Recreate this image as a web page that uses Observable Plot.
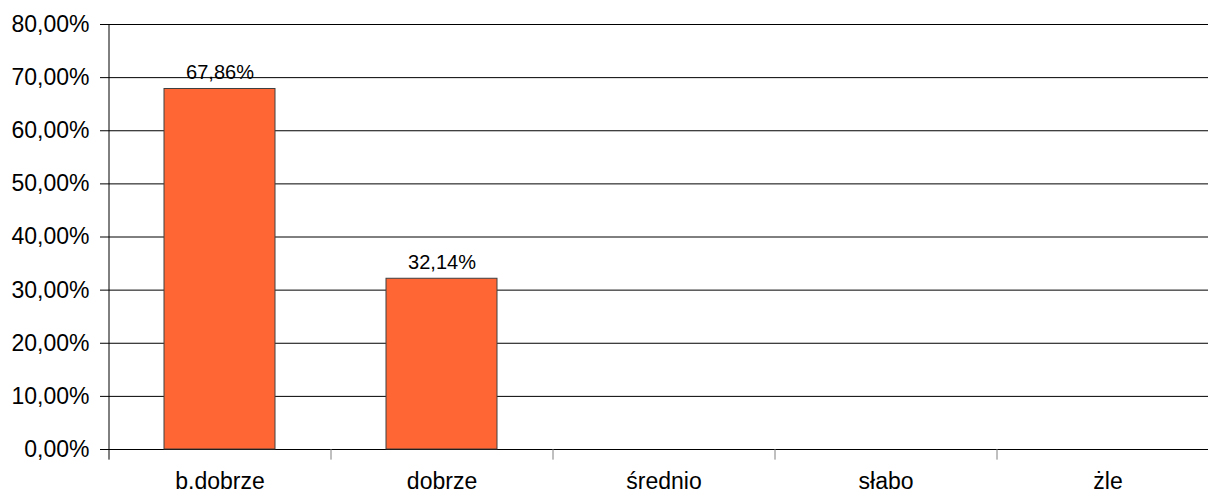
<!DOCTYPE html>
<html><head><meta charset="utf-8">
<script src="https://cdn.jsdelivr.net/npm/d3@7"></script>
<script src="https://cdn.jsdelivr.net/npm/@observablehq/plot@0.6"></script>
<style>body{margin:0;background:#fff;overflow:hidden} #chart svg{max-width:none!important}</style>
</head><body><div id="chart"></div>
<script>
const categories = ["b.dobrze", "dobrze", "średnio", "słabo", "żle"];
const values = [67.86, 32.14, 0, 0, 0];
const yTicks = [0, 10, 20, 30, 40, 50, 60, 70, 80];

const data = categories.map((c, i) => ({category: c, value: values[i]}));
const shown = data.filter(d => d.value > 0);
const fmt = v => v.toFixed(2).replace(".", ",") + "%";
const W = 1208, H = 493, x0 = 108, x1 = 1218;
const step = (x1 - x0) / categories.length;

const plot = Plot.plot({
  width: W, height: H,
  marginLeft: 108, marginRight: 0, marginTop: 24, marginBottom: 44,
  style: {fontFamily: "'Liberation Sans', Arial, sans-serif", background: "#fff", color: "#000", overflow: "hidden"},
  x: {domain: categories, range: [x0, x1], paddingInner: 0.5, paddingOuter: 0.25, label: null},
  y: {domain: [0, 80], label: null},
  marks: [
    Plot.ruleY(yTicks, {stroke: "#000", strokeWidth: 1}),
    Plot.barY(shown, {x: "category", y: "value", fill: "#ff6633", stroke: "#404040", strokeWidth: 1}),
    Plot.ruleX(categories.slice(1), {x: d => d, dx: -step / 2, y1: 0, y2: -2, stroke: "#808080"}),
    Plot.ruleX(categories.slice(0, 1), {x: d => d, dx: -step / 2, y1: -2, y2: 80, stroke: "#000"}),
    Plot.axisY(yTicks, {tickSize: 8, tickPadding: 11, tickFormat: fmt, fontSize: 23}),
    Plot.axisX({tickSize: 0, tickPadding: 23, fontSize: 23, label: null}),
    Plot.text(shown, {x: "category", y: "value", text: d => fmt(d.value), lineAnchor: "bottom", dy: -10, fontSize: 20, fill: "#000"})
  ]
});
document.getElementById("chart").appendChild(plot);
</script>
</body></html>
